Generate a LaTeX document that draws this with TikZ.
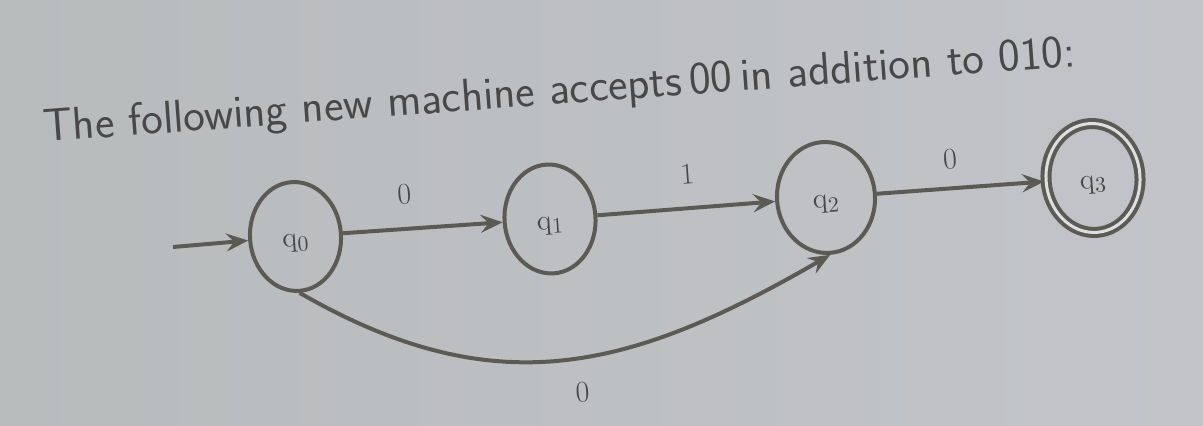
\documentclass[tikz,border=0pt]{standalone}
\usetikzlibrary{shapes.geometric,arrows.meta}
\definecolor{cbgl}{RGB}{184,187,188}
\definecolor{cbgr}{RGB}{194,196,201}
\definecolor{cline}{RGB}{92,90,84}
\definecolor{ctext}{RGB}{72,72,72}
\tikzset{
  fsm/.style={x=0.5pt,y=0.5pt,every node/.append style={rotate=4.2}},
  heading/.style={anchor=base west,inner sep=0pt,text=ctext,font=\sffamily\fontsize{23}{27}\selectfont},
  state/.style={ellipse,draw=cline,line width=2pt,minimum width=45.5pt,minimum height=54.5pt,
    inner sep=0pt,text=ctext,text height=10.5pt,text depth=0pt,font=\fontsize{15}{17}\selectfont},
  accepting/.style={state,double=cbgr!55!white,double distance=1.5pt},
  trans/.style={cline,line width=2pt,-{Stealth[length=11pt,width=9pt,inset=4pt]}},
  lbl/.style={text=ctext,font=\fontsize{15}{17}\selectfont}
}

\begin{document}
\begin{tikzpicture}[fsm]
    \useasboundingbox (0,0) rectangle (1203,426);
    \shade[left color=cbgl,right color=cbgr] (0,0) rectangle (1203,426);
    \node[heading] (title) at (44,284) {The following new machine accepts\,00\,in};
    \node[heading] (titleend) at (title.base east) {\ addition to 010:};
    % states
    \node[state] (q0) at (295.5,189.5) {$\mathrm{q}_0$};
    \node[state] (q1) at (550,207) {$\mathrm{q}_1$};
    \node[state,minimum width=49pt,minimum height=55.5pt] (q2) at (826,228.5) {$\mathrm{q}_2$};
    \node[accepting,minimum width=47pt] (q3) at (1093,248) {$\mathrm{q}_3$};
    \coordinate (init) at (173,179);
    % transitions
    \draw[trans] (init) -- (q0);
    \draw[trans] (q0) -- node[lbl,above=8pt,pos=0.4] {0} (q1);
    \draw[trans] (q1) -- node[lbl,above=8pt,pos=0.52] {1} (q2);
    \draw[trans] (q2) -- node[lbl,above=5pt,pos=0.45] {0} (q3);
    \draw[trans] (q0.south) to[out=-30,in=-150,looseness=1.1] node[lbl,below=8pt,pos=0.53] {0} (q2.south);
\end{tikzpicture}
\end{document}
